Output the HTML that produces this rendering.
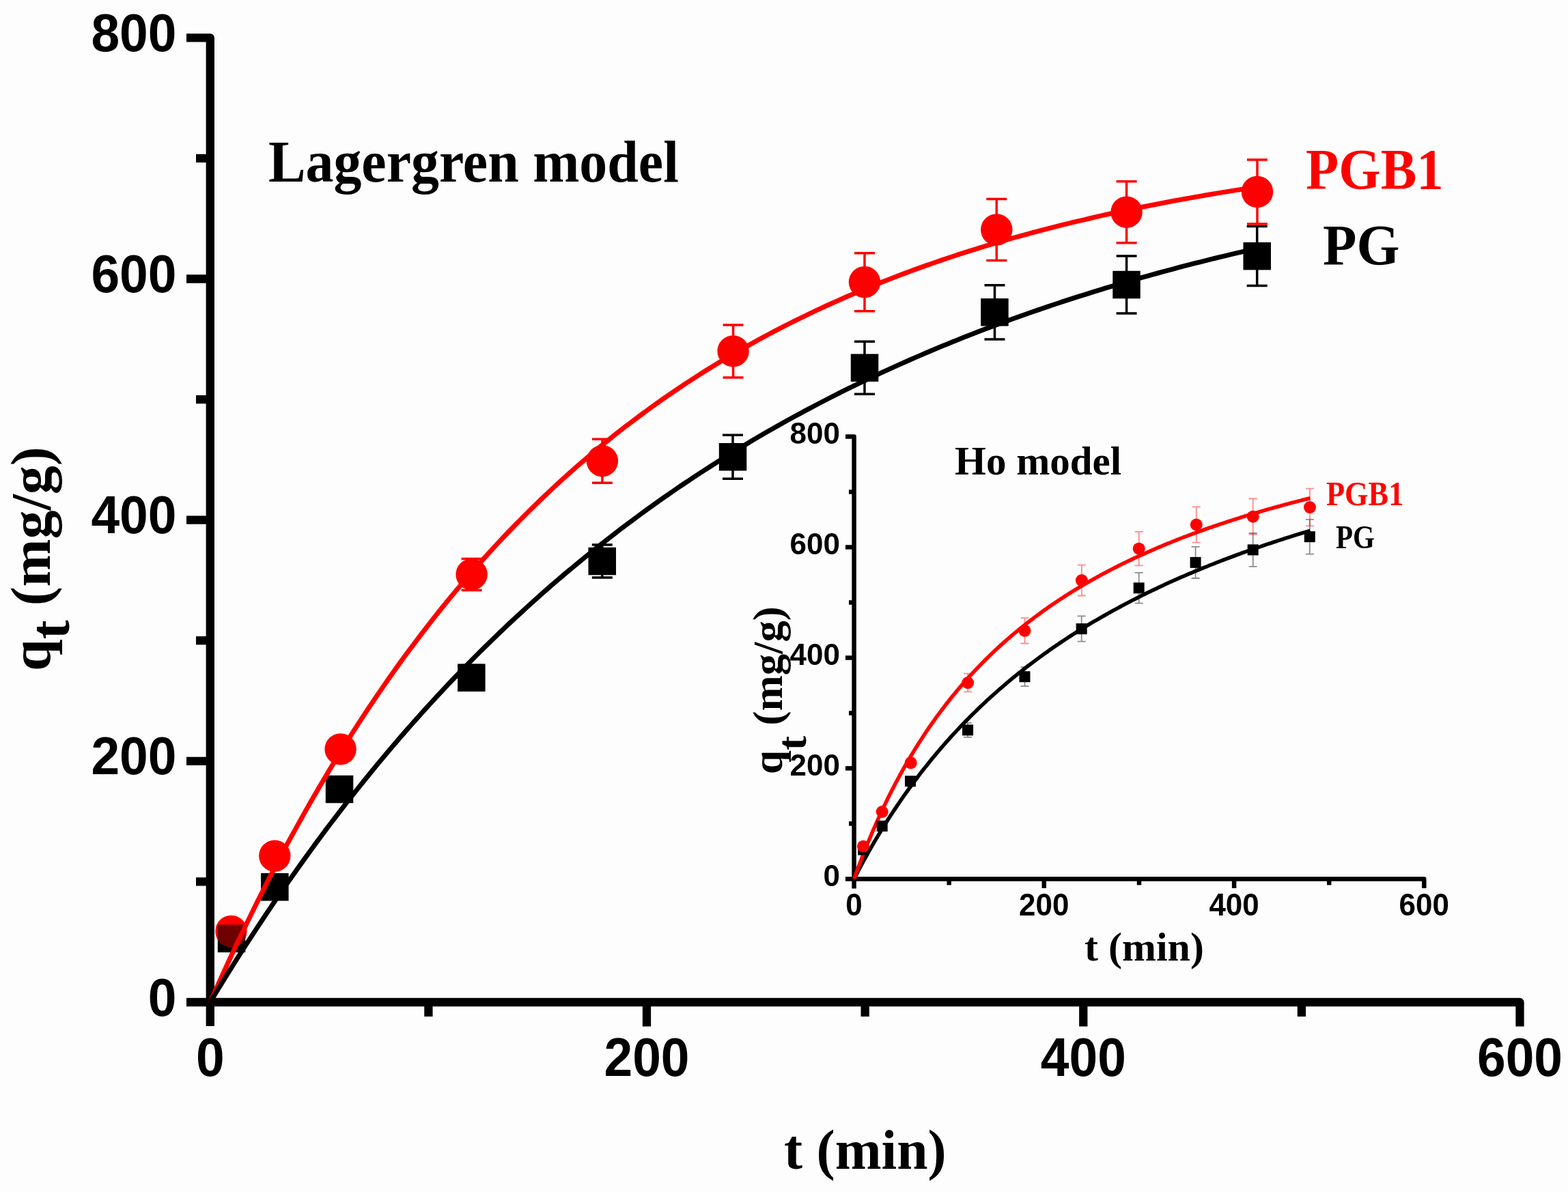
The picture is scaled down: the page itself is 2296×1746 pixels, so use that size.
<!DOCTYPE html><html><head><meta charset="utf-8"><style>html,body{margin:0;padding:0;background:#fdfdfd;overflow:hidden;width:2296px;height:1746px;}svg{display:block;}.sb{font-family:"Liberation Sans",Arial,sans-serif;font-weight:bold;}.rb{font-family:"Liberation Serif","Times New Roman",serif;font-weight:bold;}</style></head><body>
<svg width="2296" height="1746" viewBox="0 0 2296 1746">
<rect width="2296" height="1746" fill="#fdfdfd"/>
<g stroke="#000" stroke-width="12.3" fill="none">
<path stroke-linejoin="round" d="M273.0,55.3 L307.8,55.3 L307.8,1503.0"/>
<path stroke-linejoin="round" d="M273.0,1468.0 L2225.5,1468.0 L2225.5,1503.5"/>
<path d="M273.0,1114.8 L307.8,1114.8"/>
<path d="M273.0,761.6 L307.8,761.6"/>
<path d="M273.0,408.5 L307.8,408.5"/>
<path d="M287.0,1291.4 L307.8,1291.4"/>
<path d="M287.0,938.2 L307.8,938.2"/>
<path d="M287.0,585.1 L307.8,585.1"/>
<path d="M287.0,231.9 L307.8,231.9"/>
<path d="M947.0,1468.0 L947.0,1503.5"/>
<path d="M1586.3,1468.0 L1586.3,1503.5"/>
<path d="M627.4,1468.0 L627.4,1489.0"/>
<path d="M1266.7,1468.0 L1266.7,1489.0"/>
<path d="M1905.9,1468.0 L1905.9,1489.0"/>
</g>
<g class="sb" font-size="75" fill="#000">
<text transform="translate(258.5,1487.5) scale(1,1.045)" text-anchor="end">0</text>
<text transform="translate(258.5,1134.3) scale(1,1.045)" text-anchor="end">200</text>
<text transform="translate(258.5,781.1) scale(1,1.045)" text-anchor="end">400</text>
<text transform="translate(258.5,428.0) scale(1,1.045)" text-anchor="end">600</text>
<text transform="translate(258.5,74.8) scale(1,1.045)" text-anchor="end">800</text>
<text transform="translate(307.8,1576) scale(1,1.06)" text-anchor="middle">0</text>
<text transform="translate(947.0,1576) scale(1,1.06)" text-anchor="middle">200</text>
<text transform="translate(1586.3,1576) scale(1,1.06)" text-anchor="middle">400</text>
<text transform="translate(2225.5,1576) scale(1,1.06)" text-anchor="middle">600</text>
</g>
<text class="rb" font-size="81.5" x="1148" y="1711.5">t (min)</text>
<text class="rb" font-size="82" transform="translate(73.3,983) rotate(-90) scale(1.024,1)">q<tspan dy="27.5">t</tspan><tspan dy="-27.5"> (mg/g)</tspan></text>
<text class="rb" font-size="87" transform="translate(392.90,265.60) scale(0.9410,1.0000)">Lagergren model</text>
<text class="rb" font-size="85" transform="translate(1912.05,276.80) scale(0.9290,1.0000)" fill="#f00">PGB1</text>
<text class="rb" font-size="85" transform="translate(1937.12,387.50) scale(0.9520,1.0000)">PG</text>

<rect x="318.8" y="1354.5" width="40.5" height="40.5" fill="#000"/>

<rect x="382.1" y="1279.0" width="40.5" height="40.5" fill="#000"/>
<path d="M497.0,1146.0 L497.0,1166.0 M482.0,1146.0 L512.0,1146.0 M482.0,1166.0 L512.0,1166.0" stroke="#000" stroke-width="3.5" fill="none"/>
<rect x="476.8" y="1135.8" width="40.5" height="40.5" fill="#000"/>
<path d="M690.4,974.6 L690.4,1010.6 M675.4,974.6 L705.4,974.6 M675.4,1010.6 L705.4,1010.6" stroke="#000" stroke-width="3.5" fill="none"/>
<rect x="670.1" y="972.4" width="40.5" height="40.5" fill="#000"/>
<path d="M881.8,798.0 L881.8,846.0 M866.8,798.0 L896.8,798.0 M866.8,846.0 L896.8,846.0" stroke="#000" stroke-width="3.5" fill="none"/>
<rect x="861.5" y="801.8" width="40.5" height="40.5" fill="#000"/>
<path d="M1073.0,637.2 L1073.0,701.2 M1058.0,637.2 L1088.0,637.2 M1058.0,701.2 L1088.0,701.2" stroke="#000" stroke-width="3.5" fill="none"/>
<rect x="1052.8" y="649.0" width="40.5" height="40.5" fill="#000"/>
<path d="M1266.0,500.3 L1266.0,577.3 M1251.0,500.3 L1281.0,500.3 M1251.0,577.3 L1281.0,577.3" stroke="#000" stroke-width="3.5" fill="none"/>
<rect x="1245.8" y="518.5" width="40.5" height="40.5" fill="#000"/>
<path d="M1456.5,417.7 L1456.5,496.9 M1441.5,417.7 L1471.5,417.7 M1441.5,496.9 L1471.5,496.9" stroke="#000" stroke-width="3.5" fill="none"/>
<rect x="1436.2" y="437.1" width="40.5" height="40.5" fill="#000"/>
<path d="M1649.6,375.0 L1649.6,459.0 M1634.6,375.0 L1664.6,375.0 M1634.6,459.0 L1664.6,459.0" stroke="#000" stroke-width="3.5" fill="none"/>
<rect x="1629.3" y="396.8" width="40.5" height="40.5" fill="#000"/>
<path d="M1840.7,331.6 L1840.7,418.6 M1825.7,331.6 L1855.7,331.6 M1825.7,418.6 L1855.7,418.6" stroke="#000" stroke-width="3.5" fill="none"/>
<rect x="1820.5" y="354.9" width="40.5" height="40.5" fill="#000"/>

<circle cx="338.5" cy="1364.0" r="23.2" fill="#f00"/>
<clipPath id="c10"><circle cx="338.5" cy="1364.0" r="23.2"/></clipPath>
<rect x="318.8" y="1354.5" width="40.5" height="40.5" fill="#6e0000" clip-path="url(#c10)"/>

<circle cx="402.3" cy="1253.7" r="23.2" fill="#f00"/>
<path d="M498.6,1085.4 L498.6,1109.4 M483.6,1085.4 L513.6,1085.4 M483.6,1109.4 L513.6,1109.4" stroke="#f00" stroke-width="3.5" fill="none"/>
<circle cx="498.6" cy="1097.4" r="23.2" fill="#f00"/>
<path d="M690.6,818.4 L690.6,864.4 M675.6,818.4 L705.6,818.4 M675.6,864.4 L705.6,864.4" stroke="#f00" stroke-width="3.5" fill="none"/>
<circle cx="690.6" cy="841.4" r="23.2" fill="#f00"/>
<path d="M881.9,643.2 L881.9,707.2 M866.9,643.2 L896.9,643.2 M866.9,707.2 L896.9,707.2" stroke="#f00" stroke-width="3.5" fill="none"/>
<circle cx="881.9" cy="675.2" r="23.2" fill="#f00"/>
<path d="M1073.6,475.9 L1073.6,552.9 M1058.6,475.9 L1088.6,475.9 M1058.6,552.9 L1088.6,552.9" stroke="#f00" stroke-width="3.5" fill="none"/>
<circle cx="1073.6" cy="514.4" r="23.2" fill="#f00"/>
<path d="M1266.0,370.7 L1266.0,455.7 M1251.0,370.7 L1281.0,370.7 M1251.0,455.7 L1281.0,455.7" stroke="#f00" stroke-width="3.5" fill="none"/>
<circle cx="1266.0" cy="413.2" r="23.2" fill="#f00"/>
<path d="M1459.3,291.5 L1459.3,381.5 M1444.3,291.5 L1474.3,291.5 M1444.3,381.5 L1474.3,381.5" stroke="#f00" stroke-width="3.5" fill="none"/>
<circle cx="1459.3" cy="336.5" r="23.2" fill="#f00"/>
<path d="M1649.6,265.7 L1649.6,355.7 M1634.6,265.7 L1664.6,265.7 M1634.6,355.7 L1664.6,355.7" stroke="#f00" stroke-width="3.5" fill="none"/>
<circle cx="1649.6" cy="310.7" r="23.2" fill="#f00"/>
<path d="M1841.0,234.0 L1841.0,328.0 M1826.0,234.0 L1856.0,234.0 M1826.0,328.0 L1856.0,328.0" stroke="#f00" stroke-width="3.5" fill="none"/>
<circle cx="1841.0" cy="281.0" r="23.2" fill="#f00"/>
<path d="M307.8,1468.0 L315.5,1450.7 L323.2,1433.6 L330.9,1416.7 L338.6,1400.0 L346.3,1383.6 L354.1,1367.4 L361.8,1351.4 L369.5,1335.7 L377.2,1320.1 L384.9,1304.8 L392.6,1289.7 L400.3,1274.8 L408.0,1260.0 L415.7,1245.5 L423.4,1231.2 L431.2,1217.1 L438.9,1203.1 L446.6,1189.4 L454.3,1175.8 L462.0,1162.4 L469.7,1149.2 L477.4,1136.2 L485.1,1123.4 L492.8,1110.7 L500.5,1098.2 L508.2,1085.9 L516.0,1073.7 L523.7,1061.7 L531.4,1049.9 L539.1,1038.2 L546.8,1026.7 L554.5,1015.4 L562.2,1004.2 L569.9,993.1 L577.6,982.2 L585.3,971.4 L593.0,960.8 L600.8,950.4 L608.5,940.1 L616.2,929.9 L623.9,919.8 L631.6,909.9 L639.3,900.1 L647.0,890.5 L654.7,881.0 L662.4,871.6 L670.1,862.4 L677.9,853.2 L685.6,844.2 L693.3,835.3 L701.0,826.6 L708.7,817.9 L716.4,809.4 L724.1,801.0 L731.8,792.7 L739.5,784.5 L747.2,776.5 L754.9,768.5 L762.7,760.6 L770.4,752.9 L778.1,745.2 L785.8,737.7 L793.5,730.3 L801.2,722.9 L808.9,715.7 L816.6,708.5 L824.3,701.5 L832.0,694.6 L839.8,687.7 L847.5,680.9 L855.2,674.3 L862.9,667.7 L870.6,661.2 L878.3,654.8 L886.0,648.5 L893.7,642.3 L901.4,636.1 L909.1,630.1 L916.8,624.1 L924.6,618.2 L932.3,612.4 L940.0,606.6 L947.7,601.0 L955.4,595.4 L963.1,589.9 L970.8,584.4 L978.5,579.1 L986.2,573.8 L993.9,568.6 L1001.6,563.4 L1009.4,558.4 L1017.1,553.4 L1024.8,548.4 L1032.5,543.5 L1040.2,538.7 L1047.9,534.0 L1055.6,529.3 L1063.3,524.7 L1071.0,520.2 L1078.7,515.7 L1086.5,511.2 L1094.2,506.9 L1101.9,502.6 L1109.6,498.3 L1117.3,494.1 L1125.0,490.0 L1132.7,485.9 L1140.4,481.9 L1148.1,477.9 L1155.8,474.0 L1163.5,470.1 L1171.3,466.3 L1179.0,462.6 L1186.7,458.9 L1194.4,455.2 L1202.1,451.6 L1209.8,448.0 L1217.5,444.5 L1225.2,441.1 L1232.9,437.7 L1240.6,434.3 L1248.4,431.0 L1256.1,427.7 L1263.8,424.4 L1271.5,421.3 L1279.2,418.1 L1286.9,415.0 L1294.6,411.9 L1302.3,408.9 L1310.0,405.9 L1317.7,403.0 L1325.4,400.1 L1333.2,397.2 L1340.9,394.4 L1348.6,391.6 L1356.3,388.9 L1364.0,386.2 L1371.7,383.5 L1379.4,380.9 L1387.1,378.3 L1394.8,375.7 L1402.5,373.2 L1410.2,370.7 L1418.0,368.2 L1425.7,365.8 L1433.4,363.4 L1441.1,361.0 L1448.8,358.7 L1456.5,356.4 L1464.2,354.1 L1471.9,351.9 L1479.6,349.7 L1487.3,347.5 L1495.1,345.4 L1502.8,343.3 L1510.5,341.2 L1518.2,339.1 L1525.9,337.1 L1533.6,335.1 L1541.3,333.1 L1549.0,331.1 L1556.7,329.2 L1564.4,327.3 L1572.1,325.4 L1579.9,323.6 L1587.6,321.8 L1595.3,320.0 L1603.0,318.2 L1610.7,316.4 L1618.4,314.7 L1626.1,313.0 L1633.8,311.3 L1641.5,309.7 L1649.2,308.0 L1656.9,306.4 L1664.7,304.8 L1672.4,303.3 L1680.1,301.7 L1687.8,300.2 L1695.5,298.7 L1703.2,297.2 L1710.9,295.7 L1718.6,294.3 L1726.3,292.9 L1734.0,291.5 L1741.8,290.1 L1749.5,288.7 L1757.2,287.4 L1764.9,286.0 L1772.6,284.7 L1780.3,283.4 L1788.0,282.1 L1795.7,280.9 L1803.4,279.6 L1811.1,278.4 L1818.8,277.2 L1826.6,276.0 L1834.3,274.8 L1842.0,273.7" stroke="#f00" stroke-width="7" fill="none"/>
<path d="M307.8,1468.0 L315.5,1455.3 L323.2,1442.6 L330.9,1430.2 L338.6,1417.8 L346.3,1405.6 L354.1,1393.4 L361.8,1381.4 L369.5,1369.6 L377.2,1357.8 L384.9,1346.2 L392.6,1334.6 L400.3,1323.2 L408.0,1311.9 L415.7,1300.7 L423.4,1289.7 L431.2,1278.7 L438.9,1267.9 L446.6,1257.1 L454.3,1246.5 L462.0,1235.9 L469.7,1225.5 L477.4,1215.2 L485.1,1205.0 L492.8,1194.8 L500.5,1184.8 L508.2,1174.9 L516.0,1165.1 L523.7,1155.4 L531.4,1145.7 L539.1,1136.2 L546.8,1126.8 L554.5,1117.4 L562.2,1108.2 L569.9,1099.0 L577.6,1090.0 L585.3,1081.0 L593.0,1072.1 L600.8,1063.3 L608.5,1054.6 L616.2,1046.0 L623.9,1037.4 L631.6,1029.0 L639.3,1020.6 L647.0,1012.3 L654.7,1004.1 L662.4,996.0 L670.1,988.0 L677.9,980.0 L685.6,972.2 L693.3,964.4 L701.0,956.6 L708.7,949.0 L716.4,941.4 L724.1,933.9 L731.8,926.5 L739.5,919.2 L747.2,911.9 L754.9,904.7 L762.7,897.6 L770.4,890.5 L778.1,883.5 L785.8,876.6 L793.5,869.7 L801.2,863.0 L808.9,856.2 L816.6,849.6 L824.3,843.0 L832.0,836.5 L839.8,830.1 L847.5,823.7 L855.2,817.4 L862.9,811.1 L870.6,804.9 L878.3,798.8 L886.0,792.7 L893.7,786.7 L901.4,780.7 L909.1,774.8 L916.8,769.0 L924.6,763.2 L932.3,757.5 L940.0,751.8 L947.7,746.2 L955.4,740.7 L963.1,735.2 L970.8,729.7 L978.5,724.4 L986.2,719.0 L993.9,713.7 L1001.6,708.5 L1009.4,703.3 L1017.1,698.2 L1024.8,693.1 L1032.5,688.1 L1040.2,683.2 L1047.9,678.2 L1055.6,673.4 L1063.3,668.5 L1071.0,663.8 L1078.7,659.0 L1086.5,654.3 L1094.2,649.7 L1101.9,645.1 L1109.6,640.6 L1117.3,636.1 L1125.0,631.6 L1132.7,627.2 L1140.4,622.9 L1148.1,618.5 L1155.8,614.3 L1163.5,610.0 L1171.3,605.8 L1179.0,601.7 L1186.7,597.6 L1194.4,593.5 L1202.1,589.5 L1209.8,585.5 L1217.5,581.5 L1225.2,577.6 L1232.9,573.7 L1240.6,569.9 L1248.4,566.1 L1256.1,562.4 L1263.8,558.6 L1271.5,555.0 L1279.2,551.3 L1286.9,547.7 L1294.6,544.1 L1302.3,540.6 L1310.0,537.1 L1317.7,533.6 L1325.4,530.2 L1333.2,526.8 L1340.9,523.4 L1348.6,520.1 L1356.3,516.8 L1364.0,513.5 L1371.7,510.3 L1379.4,507.1 L1387.1,503.9 L1394.8,500.8 L1402.5,497.7 L1410.2,494.6 L1418.0,491.6 L1425.7,488.6 L1433.4,485.6 L1441.1,482.6 L1448.8,479.7 L1456.5,476.8 L1464.2,473.9 L1471.9,471.1 L1479.6,468.3 L1487.3,465.5 L1495.1,462.7 L1502.8,460.0 L1510.5,457.3 L1518.2,454.6 L1525.9,452.0 L1533.6,449.4 L1541.3,446.8 L1549.0,444.2 L1556.7,441.7 L1564.4,439.2 L1572.1,436.7 L1579.9,434.2 L1587.6,431.8 L1595.3,429.3 L1603.0,426.9 L1610.7,424.6 L1618.4,422.2 L1626.1,419.9 L1633.8,417.6 L1641.5,415.3 L1649.2,413.1 L1656.9,410.8 L1664.7,408.6 L1672.4,406.4 L1680.1,404.3 L1687.8,402.1 L1695.5,400.0 L1703.2,397.9 L1710.9,395.8 L1718.6,393.8 L1726.3,391.7 L1734.0,389.7 L1741.8,387.7 L1749.5,385.7 L1757.2,383.8 L1764.9,381.8 L1772.6,379.9 L1780.3,378.0 L1788.0,376.1 L1795.7,374.3 L1803.4,372.4 L1811.1,370.6 L1818.8,368.8 L1826.6,367.0 L1834.3,365.2 L1842.0,363.5" stroke="#000" stroke-width="7" fill="none"/>
<g stroke="#000" stroke-width="6.5" fill="none">
<path stroke-linejoin="round" d="M1238.0,639.6 L1250.6,639.6 L1250.6,1301.4"/>
<path stroke-linejoin="round" d="M1238.0,1287.4 L2085.3,1287.4 L2085.3,1300.9"/>
<path d="M1238.0,1125.4 L1250.6,1125.4"/>
<path d="M1238.0,963.5 L1250.6,963.5"/>
<path d="M1238.0,801.5 L1250.6,801.5"/>
<path d="M1243.0,1206.4 L1250.6,1206.4"/>
<path d="M1243.0,1044.5 L1250.6,1044.5"/>
<path d="M1243.0,882.5 L1250.6,882.5"/>
<path d="M1243.0,720.5 L1250.6,720.5"/>
<path d="M1528.8,1287.4 L1528.8,1300.9"/>
<path d="M1807.1,1287.4 L1807.1,1300.9"/>
<path d="M1389.7,1287.4 L1389.7,1296.4"/>
<path d="M1668.0,1287.4 L1668.0,1296.4"/>
<path d="M1946.2,1287.4 L1946.2,1296.4"/>
</g>
<g class="sb" font-size="44" fill="#000">
<text x="1230" y="1297.9" text-anchor="end">0</text>
<text x="1230" y="1135.9" text-anchor="end">200</text>
<text x="1230" y="974.0" text-anchor="end">400</text>
<text x="1230" y="812.0" text-anchor="end">600</text>
<text x="1230" y="650.1" text-anchor="end">800</text>
<text transform="translate(1250.6,1340.5) scale(1,1.035)" text-anchor="middle">0</text>
<text transform="translate(1528.8,1340.5) scale(1,1.035)" text-anchor="middle">200</text>
<text transform="translate(1807.1,1340.5) scale(1,1.035)" text-anchor="middle">400</text>
<text transform="translate(2085.3,1340.5) scale(1,1.035)" text-anchor="middle">600</text>
</g>
<text class="rb" font-size="60" x="1588" y="1407.3">t (min)</text>
<text class="rb" font-size="61" transform="translate(1145,1134) rotate(-90) scale(1.029,1)">q<tspan dy="35">t</tspan><tspan dy="-35"> (mg/g)</tspan></text>
<text class="rb" font-size="59" x="1398" y="695">Ho model</text>
<text class="rb" font-size="50" transform="translate(1942.00,739.80) scale(0.8870,1.0000)" fill="#f00">PGB1</text>
<text class="rb" font-size="48" transform="translate(1956.00,803.00) scale(0.8550,1.0000)">PG</text>
<path d="M1250.6,1287.4 L1254.0,1280.9 L1257.3,1274.5 L1260.7,1268.2 L1264.0,1262.0 L1267.4,1255.9 L1270.7,1249.9 L1274.1,1244.0 L1277.4,1238.1 L1280.8,1232.4 L1284.2,1226.7 L1287.5,1221.1 L1290.9,1215.6 L1294.2,1210.2 L1297.6,1204.8 L1300.9,1199.5 L1304.3,1194.3 L1307.6,1189.2 L1311.0,1184.1 L1314.4,1179.1 L1317.7,1174.2 L1321.1,1169.3 L1324.4,1164.5 L1327.8,1159.8 L1331.1,1155.1 L1334.5,1150.5 L1337.9,1146.0 L1341.2,1141.5 L1344.6,1137.0 L1347.9,1132.7 L1351.3,1128.3 L1354.6,1124.1 L1358.0,1119.9 L1361.3,1115.7 L1364.7,1111.6 L1368.1,1107.5 L1371.4,1103.5 L1374.8,1099.5 L1378.1,1095.6 L1381.5,1091.8 L1384.8,1087.9 L1388.2,1084.2 L1391.5,1080.4 L1394.9,1076.7 L1398.3,1073.1 L1401.6,1069.5 L1405.0,1065.9 L1408.3,1062.4 L1411.7,1058.9 L1415.0,1055.5 L1418.4,1052.1 L1421.7,1048.7 L1425.1,1045.4 L1428.5,1042.1 L1431.8,1038.8 L1435.2,1035.6 L1438.5,1032.4 L1441.9,1029.2 L1445.2,1026.1 L1448.6,1023.0 L1451.9,1020.0 L1455.3,1017.0 L1458.7,1014.0 L1462.0,1011.0 L1465.4,1008.1 L1468.7,1005.2 L1472.1,1002.3 L1475.4,999.5 L1478.8,996.7 L1482.1,993.9 L1485.5,991.2 L1488.9,988.4 L1492.2,985.7 L1495.6,983.1 L1498.9,980.4 L1502.3,977.8 L1505.6,975.2 L1509.0,972.7 L1512.4,970.1 L1515.7,967.6 L1519.1,965.1 L1522.4,962.6 L1525.8,960.2 L1529.1,957.8 L1532.5,955.4 L1535.8,953.0 L1539.2,950.6 L1542.6,948.3 L1545.9,946.0 L1549.3,943.7 L1552.6,941.4 L1556.0,939.2 L1559.3,937.0 L1562.7,934.8 L1566.0,932.6 L1569.4,930.4 L1572.8,928.2 L1576.1,926.1 L1579.5,924.0 L1582.8,921.9 L1586.2,919.8 L1589.5,917.8 L1592.9,915.7 L1596.2,913.7 L1599.6,911.7 L1603.0,909.7 L1606.3,907.8 L1609.7,905.8 L1613.0,903.9 L1616.4,902.0 L1619.7,900.1 L1623.1,898.2 L1626.4,896.3 L1629.8,894.4 L1633.2,892.6 L1636.5,890.8 L1639.9,889.0 L1643.2,887.2 L1646.6,885.4 L1649.9,883.6 L1653.3,881.9 L1656.6,880.1 L1660.0,878.4 L1663.4,876.7 L1666.7,875.0 L1670.1,873.3 L1673.4,871.6 L1676.8,870.0 L1680.1,868.3 L1683.5,866.7 L1686.9,865.1 L1690.2,863.5 L1693.6,861.9 L1696.9,860.3 L1700.3,858.7 L1703.6,857.2 L1707.0,855.6 L1710.3,854.1 L1713.7,852.6 L1717.1,851.1 L1720.4,849.6 L1723.8,848.1 L1727.1,846.6 L1730.5,845.1 L1733.8,843.7 L1737.2,842.2 L1740.5,840.8 L1743.9,839.4 L1747.3,837.9 L1750.6,836.5 L1754.0,835.1 L1757.3,833.8 L1760.7,832.4 L1764.0,831.0 L1767.4,829.7 L1770.7,828.3 L1774.1,827.0 L1777.5,825.7 L1780.8,824.3 L1784.2,823.0 L1787.5,821.7 L1790.9,820.4 L1794.2,819.2 L1797.6,817.9 L1800.9,816.6 L1804.3,815.4 L1807.7,814.1 L1811.0,812.9 L1814.4,811.7 L1817.7,810.4 L1821.1,809.2 L1824.4,808.0 L1827.8,806.8 L1831.1,805.6 L1834.5,804.5 L1837.9,803.3 L1841.2,802.1 L1844.6,801.0 L1847.9,799.8 L1851.3,798.7 L1854.6,797.5 L1858.0,796.4 L1861.4,795.3 L1864.7,794.2 L1868.1,793.1 L1871.4,792.0 L1874.8,790.9 L1878.1,789.8 L1881.5,788.7 L1884.8,787.6 L1888.2,786.6 L1891.6,785.5 L1894.9,784.4 L1898.3,783.4 L1901.6,782.4 L1905.0,781.3 L1908.3,780.3 L1911.7,779.3 L1915.0,778.3 L1918.4,777.3" stroke="#000" stroke-width="5.5" fill="none"/>
<path d="M1250.6,1287.4 L1254.0,1278.1 L1257.3,1269.1 L1260.7,1260.2 L1264.0,1251.5 L1267.4,1243.1 L1270.7,1234.8 L1274.1,1226.7 L1277.4,1218.8 L1280.8,1211.0 L1284.2,1203.4 L1287.5,1196.0 L1290.9,1188.7 L1294.2,1181.6 L1297.6,1174.6 L1300.9,1167.8 L1304.3,1161.0 L1307.6,1154.5 L1311.0,1148.0 L1314.4,1141.7 L1317.7,1135.5 L1321.1,1129.4 L1324.4,1123.4 L1327.8,1117.6 L1331.1,1111.8 L1334.5,1106.2 L1337.9,1100.6 L1341.2,1095.2 L1344.6,1089.8 L1347.9,1084.6 L1351.3,1079.4 L1354.6,1074.3 L1358.0,1069.3 L1361.3,1064.4 L1364.7,1059.6 L1368.1,1054.9 L1371.4,1050.2 L1374.8,1045.6 L1378.1,1041.1 L1381.5,1036.7 L1384.8,1032.3 L1388.2,1028.0 L1391.5,1023.8 L1394.9,1019.6 L1398.3,1015.5 L1401.6,1011.5 L1405.0,1007.5 L1408.3,1003.6 L1411.7,999.8 L1415.0,996.0 L1418.4,992.2 L1421.7,988.5 L1425.1,984.9 L1428.5,981.3 L1431.8,977.8 L1435.2,974.3 L1438.5,970.9 L1441.9,967.5 L1445.2,964.2 L1448.6,960.9 L1451.9,957.7 L1455.3,954.5 L1458.7,951.3 L1462.0,948.2 L1465.4,945.1 L1468.7,942.1 L1472.1,939.1 L1475.4,936.2 L1478.8,933.3 L1482.1,930.4 L1485.5,927.6 L1488.9,924.8 L1492.2,922.0 L1495.6,919.3 L1498.9,916.6 L1502.3,914.0 L1505.6,911.3 L1509.0,908.7 L1512.4,906.2 L1515.7,903.6 L1519.1,901.2 L1522.4,898.7 L1525.8,896.2 L1529.1,893.8 L1532.5,891.5 L1535.8,889.1 L1539.2,886.8 L1542.6,884.5 L1545.9,882.2 L1549.3,880.0 L1552.6,877.7 L1556.0,875.6 L1559.3,873.4 L1562.7,871.2 L1566.0,869.1 L1569.4,867.0 L1572.8,864.9 L1576.1,862.9 L1579.5,860.9 L1582.8,858.9 L1586.2,856.9 L1589.5,854.9 L1592.9,853.0 L1596.2,851.1 L1599.6,849.1 L1603.0,847.3 L1606.3,845.4 L1609.7,843.6 L1613.0,841.7 L1616.4,839.9 L1619.7,838.2 L1623.1,836.4 L1626.4,834.6 L1629.8,832.9 L1633.2,831.2 L1636.5,829.5 L1639.9,827.8 L1643.2,826.1 L1646.6,824.5 L1649.9,822.9 L1653.3,821.3 L1656.6,819.7 L1660.0,818.1 L1663.4,816.5 L1666.7,815.0 L1670.1,813.4 L1673.4,811.9 L1676.8,810.4 L1680.1,808.9 L1683.5,807.4 L1686.9,805.9 L1690.2,804.5 L1693.6,803.0 L1696.9,801.6 L1700.3,800.2 L1703.6,798.8 L1707.0,797.4 L1710.3,796.0 L1713.7,794.7 L1717.1,793.3 L1720.4,792.0 L1723.8,790.6 L1727.1,789.3 L1730.5,788.0 L1733.8,786.7 L1737.2,785.5 L1740.5,784.2 L1743.9,782.9 L1747.3,781.7 L1750.6,780.4 L1754.0,779.2 L1757.3,778.0 L1760.7,776.8 L1764.0,775.6 L1767.4,774.4 L1770.7,773.2 L1774.1,772.1 L1777.5,770.9 L1780.8,769.8 L1784.2,768.6 L1787.5,767.5 L1790.9,766.4 L1794.2,765.3 L1797.6,764.2 L1800.9,763.1 L1804.3,762.0 L1807.7,760.9 L1811.0,759.8 L1814.4,758.8 L1817.7,757.7 L1821.1,756.7 L1824.4,755.6 L1827.8,754.6 L1831.1,753.6 L1834.5,752.6 L1837.9,751.6 L1841.2,750.6 L1844.6,749.6 L1847.9,748.6 L1851.3,747.7 L1854.6,746.7 L1858.0,745.7 L1861.4,744.8 L1864.7,743.8 L1868.1,742.9 L1871.4,742.0 L1874.8,741.1 L1878.1,740.1 L1881.5,739.2 L1884.8,738.3 L1888.2,737.4 L1891.6,736.5 L1894.9,735.7 L1898.3,734.8 L1901.6,733.9 L1905.0,733.1 L1908.3,732.2 L1911.7,731.3 L1915.0,730.5 L1918.4,729.7" stroke="#f00" stroke-width="5.5" fill="none"/>

<rect x="1256.2" y="1236.6" width="16" height="16" fill="#000"/>

<rect x="1283.7" y="1202.0" width="16" height="16" fill="#000"/>
<path d="M1333.0,1138.5 L1333.0,1150.1 M1327.0,1138.5 L1339.0,1138.5 M1327.0,1150.1 L1339.0,1150.1" stroke="#000" stroke-width="1.8" fill="none" opacity="0.45"/>
<rect x="1325.0" y="1136.3" width="16" height="16" fill="#000"/>
<path d="M1417.1,1058.9 L1417.1,1079.9 M1411.1,1058.9 L1423.1,1058.9 M1411.1,1079.9 L1423.1,1079.9" stroke="#000" stroke-width="1.8" fill="none" opacity="0.45"/>
<rect x="1409.1" y="1061.4" width="16" height="16" fill="#000"/>
<path d="M1500.5,977.2 L1500.5,1005.1 M1494.5,977.2 L1506.5,977.2 M1494.5,1005.1 L1506.5,1005.1" stroke="#000" stroke-width="1.8" fill="none" opacity="0.45"/>
<rect x="1492.5" y="983.2" width="16" height="16" fill="#000"/>
<path d="M1583.7,902.4 L1583.7,939.7 M1577.7,902.4 L1589.7,902.4 M1577.7,939.7 L1589.7,939.7" stroke="#000" stroke-width="1.8" fill="none" opacity="0.45"/>
<rect x="1575.7" y="913.1" width="16" height="16" fill="#000"/>
<path d="M1667.7,838.9 L1667.7,883.7 M1661.7,838.9 L1673.7,838.9 M1661.7,883.7 L1673.7,883.7" stroke="#000" stroke-width="1.8" fill="none" opacity="0.45"/>
<rect x="1659.7" y="853.3" width="16" height="16" fill="#000"/>
<path d="M1750.6,800.8 L1750.6,847.0 M1744.6,800.8 L1756.6,800.8 M1744.6,847.0 L1756.6,847.0" stroke="#000" stroke-width="1.8" fill="none" opacity="0.45"/>
<rect x="1742.6" y="815.9" width="16" height="16" fill="#000"/>
<path d="M1834.7,781.0 L1834.7,829.9 M1828.7,781.0 L1840.7,781.0 M1828.7,829.9 L1840.7,829.9" stroke="#000" stroke-width="1.8" fill="none" opacity="0.45"/>
<rect x="1826.7" y="797.4" width="16" height="16" fill="#000"/>
<path d="M1917.8,760.9 L1917.8,811.6 M1911.8,760.9 L1923.8,760.9 M1911.8,811.6 L1923.8,811.6" stroke="#000" stroke-width="1.8" fill="none" opacity="0.45"/>
<rect x="1909.8" y="778.2" width="16" height="16" fill="#000"/>

<circle cx="1264.0" cy="1239.7" r="9" fill="#f00"/>

<circle cx="1291.7" cy="1189.1" r="9" fill="#f00"/>
<path d="M1333.7,1110.5 L1333.7,1124.4 M1327.7,1110.5 L1339.7,1110.5 M1327.7,1124.4 L1339.7,1124.4" stroke="#f00" stroke-width="1.8" fill="none" opacity="0.45"/>
<circle cx="1333.7" cy="1117.4" r="9" fill="#f00"/>
<path d="M1417.2,986.7 L1417.2,1013.4 M1411.2,986.7 L1423.2,986.7 M1411.2,1013.4 L1423.2,1013.4" stroke="#f00" stroke-width="1.8" fill="none" opacity="0.45"/>
<circle cx="1417.2" cy="1000.1" r="9" fill="#f00"/>
<path d="M1500.5,905.2 L1500.5,942.5 M1494.5,905.2 L1506.5,905.2 M1494.5,942.5 L1506.5,942.5" stroke="#f00" stroke-width="1.8" fill="none" opacity="0.45"/>
<circle cx="1500.5" cy="923.8" r="9" fill="#f00"/>
<path d="M1583.9,827.7 L1583.9,872.5 M1577.9,827.7 L1589.9,827.7 M1577.9,872.5 L1589.9,872.5" stroke="#f00" stroke-width="1.8" fill="none" opacity="0.45"/>
<circle cx="1583.9" cy="850.1" r="9" fill="#f00"/>
<path d="M1667.7,778.9 L1667.7,828.4 M1661.7,778.9 L1673.7,778.9 M1661.7,828.4 L1673.7,828.4" stroke="#f00" stroke-width="1.8" fill="none" opacity="0.45"/>
<circle cx="1667.7" cy="803.7" r="9" fill="#f00"/>
<path d="M1751.8,742.3 L1751.8,794.7 M1745.8,742.3 L1757.8,742.3 M1745.8,794.7 L1757.8,794.7" stroke="#f00" stroke-width="1.8" fill="none" opacity="0.45"/>
<circle cx="1751.8" cy="768.5" r="9" fill="#f00"/>
<path d="M1834.7,730.5 L1834.7,782.9 M1828.7,730.5 L1840.7,730.5 M1828.7,782.9 L1840.7,782.9" stroke="#f00" stroke-width="1.8" fill="none" opacity="0.45"/>
<circle cx="1834.7" cy="756.7" r="9" fill="#f00"/>
<path d="M1918.0,715.7 L1918.0,770.4 M1912.0,715.7 L1924.0,715.7 M1912.0,770.4 L1924.0,770.4" stroke="#f00" stroke-width="1.8" fill="none" opacity="0.45"/>
<circle cx="1918.0" cy="743.1" r="9" fill="#f00"/>
</svg></body></html>
